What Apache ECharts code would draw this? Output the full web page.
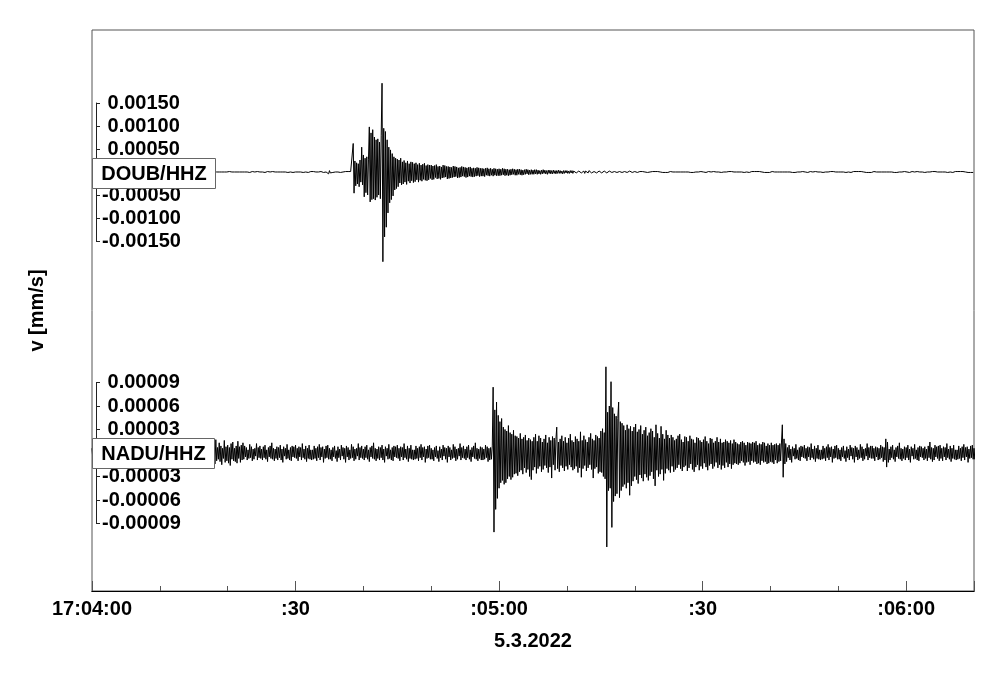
<!DOCTYPE html>
<html>
<head>
<meta charset="utf-8">
<script src="https://cdn.jsdelivr.net/npm/echarts@6/dist/echarts.min.js"></script>
<style>
html,body{margin:0;padding:0;background:#fff;}
#chart{width:1000px;height:678px;}
</style>
</head>
<body>
<div id="chart"></div>
<script>
// ---- data ----
const stationNames = ['DOUB/HHZ', 'NADU/HHZ'];
const dateLabel = '5.3.2022';
const yAxisTitle = 'v [mm/s]';
const sampleStep = 0.125;           // seconds between samples, from 17:04:00
const timeTickLabels = {0: '17:04:00', 30: ':30', 60: ':05:00', 90: ':30', 120: ':06:00'};
const doubTickValues = [-0.0015, -0.0010, -0.0005, 0, 0.0005, 0.0010, 0.0015];
const naduTickValues = [-0.00009, -0.00006, -0.00003, 0, 0.00003, 0.00006, 0.00009];
const doubUnit = 1e-5;   // DOUB samples in 1e-5 mm/s
const naduUnit = 1e-6;   // NADU samples in 1e-6 mm/s

const doubSamples = [
  0,0,1,0,-1,0,0,1,0,-1,0,0,0,1,0,-1,0,0,1,0,
  0,-1,0,0,1,0,-1,0,0,1,0,-1,0,0,0,1,0,-1,0,0,
  0,0,1,0,-1,0,0,1,0,-1,0,0,0,1,0,-1,0,0,1,0,
  0,-1,0,0,1,0,-1,0,0,1,0,-1,0,0,0,1,0,-1,0,0,
  0,0,1,0,-1,0,0,1,0,-1,0,0,0,1,0,-1,0,0,1,0,
  0,-1,0,0,1,0,-1,0,0,1,0,-1,0,0,0,1,0,-1,0,0,
  0,0,1,0,-1,0,0,1,0,-1,0,0,0,1,0,-1,0,0,1,0,
  0,-1,0,0,1,0,-1,0,0,1,0,-1,0,0,0,1,0,-1,0,0,
  0,0,1,0,-1,0,0,1,0,-1,0,0,0,1,0,-1,0,0,1,0,
  0,-1,0,0,1,0,-1,0,0,1,0,-1,0,0,0,1,0,-1,0,0,
  0,0,1,0,-1,0,0,1,0,-1,0,0,0,1,0,-1,0,0,1,0,
  0,-1,0,0,1,0,-1,0,0,1,0,-1,0,0,0,1,0,-1,0,0,
  0,0,1,0,-1,0,0,1,0,-1,0,0,0,1,0,-1,0,0,1,0,
  0,1,0,-1,0,0,1,0,-1,0,1,0,0,-1,0,1,0,-1,4,-4,
  3,-2,1,0,-1,0,1,0,-1,0,0,1,0,-1,0,1,0,-1,0,1,
  0,-1,1,0,-1,1,0,-1,62,-46,24,-30,20,-26,18,-32,26,-22,54,-28,
  37,-54,30,-45,33,-50,28,98,-65,85,-60,92,-58,76,-61,70,-55,72,-50,65,
  -58,80,193,-195,95,-141,88,-120,70,-89,54,-67,48,-60,40,-52,33,-39,30,-36,
  28,-32,26,-24,30,-28,22,-26,25,-22,20,-27,24,-20,18,-24,22,-19,21,-23,
  18,-21,20,-17,16,-22,19,-18,15,-20,17,-16,19,-18,14,-19,16,-17,15,-14,
  15,-17,13,-16,14,-12,16,-15,12,-14,13,-16,11,-13,15,-12,14,-11,12,-15,
  12,-14,11,-13,10,-12,13,-11,12,-10,11,-13,9,-12,10,-11,12,-9,11,-10,
  10,-12,9,-11,10,-9,11,-10,8,-11,9,-10,8,-9,10,-8,9,-10,8,-9,
  8,-9,7,-10,8,-7,9,-8,7,-9,8,-7,6,-9,8,-7,7,-8,6,-8,
  7,-8,6,-7,8,-6,7,-8,6,-7,6,-8,5,-7,6,-6,7,-5,6,-7,
  5,-7,6,-5,6,-6,5,-7,4,-6,5,-5,6,-4,5,-6,4,-5,5,-5,
  4,-5,5,-4,5,-5,4,-4,3,-5,4,-4,5,-3,4,-4,3,-5,4,-3,
  4,-4,3,-4,4,-3,3,-4,3,-3,4,-3,3,-3,2,-4,3,-3,3,-2,
  3,-3,2,-3,3,-2,3,-3,2,-2,3,-2,2,-3,2,-2,3,-2,2,-2,
  2,-3,2,-2,2,-2,3,-1,2,-2,2,-2,1,-2,2,-2,2,-1,2,-2,
  2,-2,1,-2,2,-1,2,-2,1,-1,2,-2,1,-1,2,-1,1,-2,1,-1,
  2,-1,1,-1,2,-1,1,-1,1,-2,1,-1,1,-1,2,-1,1,-1,1,-1,
  1,-1,1,-1,1,-1,1,0,-1,1,-1,1,0,-1,1,-1,1,-1,0,1,
  0,1,-1,0,1,0,-1,1,0,-1,0,1,0,-1,1,0,-1,0,1,-1,
  0,0,1,0,-1,0,0,1,0,-1,0,0,0,1,0,-1,0,0,1,0,
  0,1,-1,0,1,0,-1,1,0,-1,0,1,0,-1,1,0,-1,0,1,-1,
  0,0,1,0,-1,0,0,1,0,-1,0,0,0,1,0,-1,0,0,1,0,
  0,1,-1,0,1,0,-1,1,0,-1,0,1,0,-1,1,0,-1,0,1,-1,
  0,0,1,0,-1,0,0,1,0,-1,0,0,0,1,0,-1,0,0,1,0,
  0,1,-1,0,1,0,-1,1,0,-1,0,1,0,-1,1,0,-1,0,1,-1,
  0,0,1,0,-1,0,0,1,0,-1,0,0,0,1,0,-1,0,0,1,0,
  0,1,-1,0,1,0,-1,1,0,-1,0,1,0,-1,1,0,-1,0,1,-1,
  0,0,1,0,-1,0,0,1,0,-1,0,0,0,1,0,-1,0,0,1,0,
  0,1,-1,0,1,0,-1,1,0,-1,0,1,0,-1,1,0,-1,0,1,-1,
  0,0,1,0,-1,0,0,1,0,-1,0,0,0,1,0,-1,0,0,1,0,
  0,1,-1,0,1,0,-1,1,0,-1,0,1,0,-1,1,0,-1,0,1,-1,
  0,0,1,0,-1,0,0,1,0,-1,0,0,0,1,0,-1,0,0,1,0,
  0,1,-1,0,1,0,-1,1,0,-1,0,1,0,-1,1,0,-1,0,1,-1,
  0,0,1,0,-1,0,0,1,0,-1,0,0,0,1,0,-1,0,0,1,0,
  0,1,-1,0,1,0,-1,1,0,-1,0,1,0,-1,1,0,-1,0,1,-1,
  0,0,1,0,-1,0,0,1,0,-1,0,0,0,1,0,-1,0,0,1,0,
  0,1,-1,0,1,0,-1,1,0,-1,0,1,0,-1,1,0,-1,0,1,-1
];

const naduSamples = [
  6,-8,4,-10,7,-5,9,-7,3,-11,8,-6,5,-9,10,-4,7,-8,6,-12,
  9,-5,7,-9,4,-7,11,-6,8,-10,5,-8,6,-4,12,-9,7,-6,9,-7,
  5,-9,8,-6,10,-8,4,-11,7,-5,9,-7,13,-8,6,-10,5,-7,8,-9,
  7,-6,10,-9,5,-12,8,-4,6,-8,11,-7,4,-9,7,-10,9,-5,8,-6,
  10,-7,6,-10,8,-5,7,-9,12,-6,5,-8,9,-11,6,-7,10,-8,4,-9,
  4,-8,9,-7,6,-10,8,-6,11,-9,7,-5,8,-12,5,-7,9,-6,10,-8,
  6,-8,4,-10,7,-5,9,-7,3,-11,8,-6,5,-9,10,-4,7,-8,6,-12,
  8,-12,15,-9,6,-14,17,-10,7,-8,13,-11,9,-15,6,-7,16,-12,8,-10,
  10,-13,7,-16,12,-8,14,-10,6,-11,9,-13,15,-7,8,-12,10,-9,13,-8,
  9,-5,7,-9,4,-7,11,-6,8,-10,5,-8,6,-4,12,-9,7,-6,9,-7,
  5,-9,8,-6,10,-8,4,-11,7,-5,9,-7,13,-8,6,-10,5,-7,8,-9,
  7,-6,10,-9,5,-12,8,-4,6,-8,11,-7,4,-9,7,-10,9,-5,8,-6,
  10,-7,6,-10,8,-5,7,-9,12,-6,5,-8,9,-11,6,-7,10,-8,4,-9,
  4,-8,9,-7,6,-10,8,-6,11,-9,7,-5,8,-12,5,-7,9,-6,10,-8,
  6,-8,4,-10,7,-5,9,-7,3,-11,8,-6,5,-9,10,-4,7,-8,6,-12,
  9,-5,7,-9,4,-7,11,-6,8,-10,5,-8,6,-4,12,-9,7,-6,9,-7,
  5,-9,8,-6,10,-8,4,-11,7,-5,9,-7,13,-8,6,-10,5,-7,8,-9,
  7,-6,10,-9,5,-12,8,-4,6,-8,11,-7,4,-9,7,-10,9,-5,8,-6,
  10,-7,6,-10,8,-5,7,-9,12,-6,5,-8,9,-11,6,-7,10,-8,4,-9,
  4,-8,9,-7,6,-10,8,-6,11,-9,7,-5,8,-12,5,-7,9,-6,10,-8,
  6,-8,4,-10,7,-5,9,-7,3,-11,8,-6,5,-9,10,-4,7,-8,6,-12,
  9,-5,7,-9,4,-7,11,-6,8,-10,5,-8,6,-4,12,-9,7,-6,9,-7,
  5,-9,8,-6,10,-8,4,-11,7,-5,9,-7,13,-8,6,-10,5,-7,8,-9,
  7,-9,5,-8,10,-6,8,-11,6,-9,7,-8,9,84,-101,55,-72,65,-58,48,
  -45,40,-38,44,-35,33,-40,30,-38,28,-33,35,-30,26,-34,24,-31,29,-27,22,
  -26,21,-29,19,-24,25,-22,18,-27,20,-19,23,-25,16,-21,19,-30,17,-34,15,
  -22,20,-18,24,-26,15,-20,22,-17,19,-24,14,-21,18,-16,23,-19,13,-25,20,
  -18,16,-32,21,-15,19,-22,17,33,-20,14,-24,18,-16,22,-19,15,-23,20,-17,
  13,-21,19,-15,24,-18,16,-22,14,-20,21,-17,18,-25,15,-19,27,-31,16,-20,
  22,-16,17,-23,14,-19,20,-15,25,-21,18,-32,16,-20,23,-18,21,-26,19,-24,
  28,-25,31,-30,26,-33,110,-120,52,-48,60,-45,91,-95,58,-62,50,-55,47,-52,
  44,65,-57,40,-48,38,-43,35,-40,29,-45,36,-38,31,-54,34,-42,28,-36,33,
  -30,37,-34,27,-39,30,-28,35,-32,24,-36,29,-27,33,-31,22,-35,26,-29,31,
  -24,28,-33,20,-42,36,-22,25,-30,19,-27,34,-21,24,-35,18,-26,29,-20,23,
  -22,19,-25,23,-17,20,-24,16,-21,18,-19,22,-15,24,-20,17,-23,14,-18,21,
  -16,20,-23,15,-19,22,-14,18,-21,17,-24,13,-18,20,-15,19,-22,16,-17,14,
  -20,17,-13,21,-18,15,-22,12,-16,19,-14,18,-20,13,-17,15,-12,20,-19,14,
  -15,18,-21,13,-16,14,-19,17,-12,15,-18,13,-14,16,-20,12,-15,17,-13,14,
  -14,12,-15,11,-13,14,-10,15,-12,13,-16,10,-12,14,-11,13,-15,12,-10,14,
  -12,13,-11,15,-14,10,-13,12,-15,11,-10,14,-12,13,-11,9,-14,12,-13,10,
  -11,13,-12,10,-14,11,-9,12,-13,10,-11,12,-10,14,36,-31,18,-14,12,-11,
  7,-6,10,-9,5,-12,8,-4,6,-8,11,-7,4,-9,7,-10,9,-5,8,-6,
  10,-7,6,-10,8,-5,7,-9,12,-6,5,-8,9,-11,6,-7,10,-8,4,-9,
  4,-8,9,-7,6,-10,8,-6,11,-9,7,-5,8,-12,5,-7,9,-6,10,-8,
  6,-8,4,-10,7,-5,9,-7,3,-11,8,-6,5,-9,10,-4,7,-8,6,-12,
  9,-5,7,-9,4,-7,11,-6,8,-10,5,-8,6,-4,12,-9,7,-6,9,-7,
  9,-7,6,-10,8,-5,7,-9,6,-8,10,-6,8,-11,7,-9,18,-18,14,-12,
  5,-9,8,-6,10,-8,4,-11,7,-5,9,-7,13,-8,6,-10,5,-7,8,-9,
  7,-6,10,-9,5,-12,8,-4,6,-8,11,-7,4,-9,7,-10,9,-5,8,-6,
  6,-9,8,-7,5,-10,9,-6,14,-8,7,-11,6,-9,10,-5,8,-7,9,-10,
  10,-7,6,-10,8,-5,7,-9,12,-6,5,-8,9,-11,6,-7,10,-8,4,-9,
  4,-8,9,-7,6,-10,8,-6,11,-9,7,-5,8,-12,5,-7,9,-6,10,-8,
  6,-8,4,-10,7,-5,9,-7,3,-11,8,-6,5,-9,10,-4,7,-8,6,-12
];

// ---- build chart ----
const FONT = '"Liberation Sans", Arial, sans-serif';
const doubData = doubSamples.map((v, i) => [i * sampleStep, v * doubUnit]);
const naduData = naduSamples.map((v, i) => [i * sampleStep, v * naduUnit]);

function bracketLabel(digits) {
  return function (v) {
    if (Math.abs(v) < 1e-12) return '';
    const s = Math.abs(v).toFixed(digits);
    return (v < 0 ? '-' : ' ') + s;
  };
}

const hiddenX = (g) => ({gridIndex: g, type: 'value', min: 0, max: 130, show: false, position: 'bottom'});
const plotRect = {left: 92, right: 26, top: 30, bottom: 87};
const labelFont = {fontFamily: FONT, fontWeight: 'bold', fontSize: 20, color: '#000'};

const chart = echarts.init(document.getElementById('chart'), null, {renderer: 'canvas'});
chart.setOption({
  animation: false,
  backgroundColor: '#fff',
  grid: [
    Object.assign({show: true, borderColor: '#555', borderWidth: 1, backgroundColor: 'transparent'}, plotRect),
    Object.assign({}, plotRect),
    Object.assign({}, plotRect),
    {left: 96, top: 103, height: 138, width: 100},
    {left: 96, top: 382.5, height: 141, width: 100}
  ],
  xAxis: [
    {gridIndex: 0, type: 'value', position: 'bottom', min: 0, max: 130, interval: 10,
     axisLine: {show: true, lineStyle: {color: '#000', width: 1}},
     axisTick: {show: true, inside: true, length: 5, lineStyle: {color: '#555'}},
     axisLabel: {show: false}, splitLine: {show: false}},
    {gridIndex: 0, type: 'value', position: 'bottom', min: 0, max: 130, interval: 30,
     name: dateLabel, nameLocation: 'middle', nameGap: 40,
     nameTextStyle: labelFont,
     axisLine: {show: true, lineStyle: {color: '#000', width: 1}},
     axisTick: {show: true, inside: true, length: 10, lineStyle: {color: '#555'}},
     axisLabel: Object.assign({show: true, margin: 8, showMinLabel: true, showMaxLabel: true,
       formatter: (v) => (timeTickLabels[v] !== undefined ? timeTickLabels[v] : '')}, labelFont),
     splitLine: {show: false}},
    hiddenX(1), hiddenX(2), hiddenX(3), hiddenX(4)
  ],
  yAxis: [
    {gridIndex: 0, type: 'value', min: 0, max: 1,
     name: yAxisTitle, nameLocation: 'middle', nameGap: 45, nameRotate: 90,
     nameTextStyle: labelFont,
     axisLine: {show: false}, axisTick: {show: false}, axisLabel: {show: false}, splitLine: {show: false}},
    {gridIndex: 1, type: 'value', min: -0.009109, max: 0.003087, show: false},
    {gridIndex: 2, type: 'value', min: -0.0001762, max: 0.00054, show: false},
    {gridIndex: 3, type: 'value', min: doubTickValues[0], max: doubTickValues[doubTickValues.length - 1], interval: 0.0005,
     axisLine: {show: true, lineStyle: {color: '#222', width: 1}},
     axisTick: {show: true, inside: true, length: 4, lineStyle: {color: '#222'}},
     axisLabel: Object.assign({show: true, inside: true, margin: 6, formatter: bracketLabel(5)}, labelFont),
     splitLine: {show: false}},
    {gridIndex: 4, type: 'value', min: naduTickValues[0], max: naduTickValues[naduTickValues.length - 1], interval: 0.00003,
     axisLine: {show: true, lineStyle: {color: '#222', width: 1}},
     axisTick: {show: true, inside: true, length: 4, lineStyle: {color: '#222'}},
     axisLabel: Object.assign({show: true, inside: true, margin: 6, formatter: bracketLabel(5)}, labelFont),
     splitLine: {show: false}}
  ],
  series: [
    {name: stationNames[0], type: 'line', xAxisIndex: 2, yAxisIndex: 1, data: doubData,
     showSymbol: false, symbol: 'none', clip: true,
     lineStyle: {color: '#000', width: 1}, z: 3},
    {name: stationNames[1], type: 'line', xAxisIndex: 3, yAxisIndex: 2, data: naduData,
     showSymbol: false, symbol: 'none', clip: true,
     lineStyle: {color: '#000', width: 1}, z: 3}
  ],
  graphic: [
    {type: 'rect', z: 100, shape: {x: 92.5, y: 158.5, width: 123, height: 30},
     style: {fill: '#fff', stroke: '#666', lineWidth: 1}},
    {type: 'text', z: 101, x: 154, y: 174,
     style: {text: stationNames[0], font: 'bold 20px ' + FONT, fill: '#000', align: 'center', verticalAlign: 'middle'}},
    {type: 'rect', z: 100, shape: {x: 92.5, y: 438.5, width: 122, height: 30},
     style: {fill: '#fff', stroke: '#666', lineWidth: 1}},
    {type: 'text', z: 101, x: 153.5, y: 454,
     style: {text: stationNames[1], font: 'bold 20px ' + FONT, fill: '#000', align: 'center', verticalAlign: 'middle'}}
  ]
});
</script>
</body>
</html>
